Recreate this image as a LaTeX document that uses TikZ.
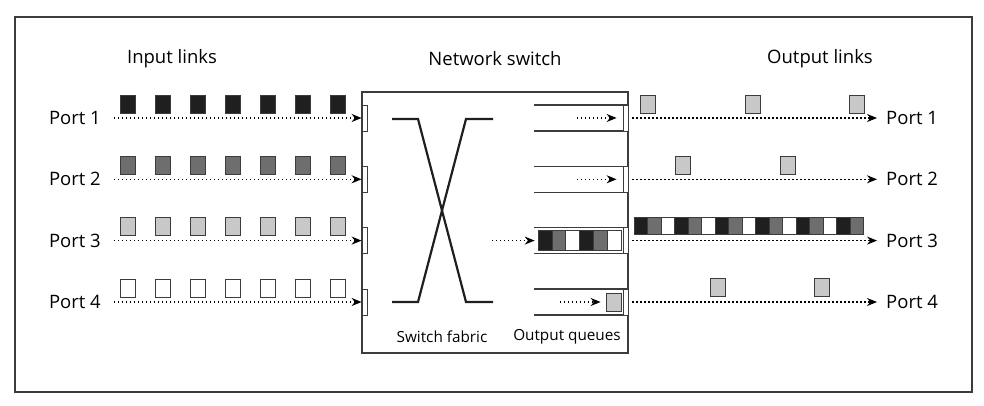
\documentclass[tikz,border=0pt]{standalone}
\usepackage{fontspec}
\setmainfont{Open Sans}
\usetikzlibrary{arrows.meta}
\definecolor{pktblack}{HTML}{1F1F1F}
\definecolor{pktdark}{HTML}{6E6E6E}
\definecolor{pktlight}{HTML}{C8C8C8}
\definecolor{edge}{HTML}{3C3C3C}
\begin{document}
\begin{tikzpicture}[
  x=1pt, y=-1pt,
  font=\fontsize{18.5}{21}\selectfont,
  small/.style={font=\fontsize{15.3}{18}\selectfont},
  pkt/.style={draw=edge, line width=.8pt, minimum width=15pt, minimum height=18pt, inner sep=0pt},
  cell/.style={draw=edge, line width=.6pt, minimum width=13.5pt, minimum height=17pt, inner sep=0pt},
  portbox/.style={draw=edge, line width=.8pt, fill=white, minimum width=5pt, minimum height=26pt, inner sep=0pt},
  link/.style={line width=1.3pt, dash pattern=on 1.3pt off 2.7pt, -{Stealth[length=10pt, width=8pt]}},
  qline/.style={draw=edge, line width=1.2pt},
  fabric/.style={line width=2.2pt, draw=pktblack, line join=miter}
]
  \useasboundingbox (0,0) rectangle (984,406);
  \draw[edge, line width=1.2pt] (15,17) rectangle (972,392);

  % titles
  \node (inputs) at (172,59) {Input links};
  \node (switchtitle) at (495,59) {Network switch};
  \node (outputs) at (820,59) {Output links};

  % the switch
  \node[draw=edge, line width=1.2pt, minimum width=266pt, minimum height=261pt, inner sep=0pt]
    (switch) at (495,222.5) {};
  \node[small] (fabriclabel) at (442,337) {Switch fabric};
  \node[small] (queuelabel) at (567,337) {Output queues};
  \draw[fabric] (392,119) -- (418,119) -- (466,302) -- (493,302);
  \draw[fabric] (493,119) -- (466,119) -- (418,302) -- (392,302);

  % ports, input links and queues
  \foreach \r/\y/\col in {1/118/pktblack, 2/179.3/pktdark, 3/240.6/pktlight, 4/302/white} {
    \node[anchor=east, inner sep=0pt] (pl\r) at (101,\y) {Port \r};
    \foreach \i in {0,...,6}
      \node[pkt, fill=\col] (sq\r-\i) at ({127.5+35*\i},{\y-14}) {};
    \node[portbox] (in\r) at (364.5,\y) {};
    \draw[link, shorten <=13pt] (pl\r) -- (in\r);
    \draw[qline] (534,{\y-13}) -- (627,{\y-13});
    \draw[qline] (534,{\y+13}) -- (627,{\y+13});
    \node[portbox] (out\r) at (625.5,\y) {};
    \node[anchor=west, inner sep=0pt] (pr\r) at (886,\y) {Port \r};
    \draw[link, shorten <=4pt, shorten >=9pt] (out\r) -- (pr\r);
  }

  % queue contents
  \coordinate (qa1) at (577,118);
  \coordinate (qa2) at (577,179.3);
  \draw[link, shorten >=6pt] (qa1) -- (out1);
  \draw[link, shorten >=6pt] (qa2) -- (out2);
  \foreach \c [count=\j from 0] in {pktblack,pktdark,white,pktblack,pktdark,white}
    \node[cell, fill=\c, minimum width=13.8pt, minimum height=20pt] (qc\j) at ({544.9+13.8*\j},240.6) {};
  \coordinate (qa3) at (492,240.6);
  \draw[link, shorten >=3pt] (qa3) -- (qc0);
  \node[pkt, fill=pktlight] (qp4) at (613.5,302) {};
  \coordinate (qa4) at (560,302);
  \draw[link, shorten >=5pt] (qa4) -- (qp4);

  % output links
  \foreach \x [count=\k] in {647.5,752.5,857}
    \node[pkt, fill=pktlight] (o1-\k) at (\x,104) {};
  \foreach \x [count=\k] in {682.5,787.5}
    \node[pkt, fill=pktlight] (o2-\k) at (\x,165.3) {};
  \foreach \c [count=\j from 0] in {pktblack,pktdark,white,pktblack,pktdark,white,pktblack,pktdark,white,
                                    pktblack,pktdark,white,pktblack,pktdark,white,pktblack,pktdark}
    \node[cell, fill=\c] (o3-\j) at ({640.75+13.5*\j},225.5) {};
  \foreach \x [count=\k] in {717.5,822}
    \node[pkt, fill=pktlight] (o4-\k) at (\x,287) {};
\end{tikzpicture}
\end{document}
